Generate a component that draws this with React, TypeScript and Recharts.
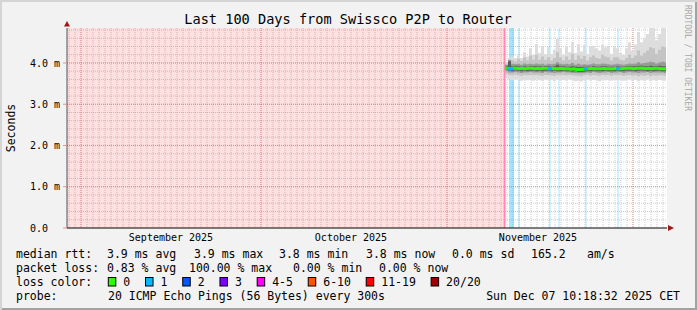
import React from 'react';
import {
  ComposedChart,
  Area,
  Line,
  Scatter,
  XAxis,
  YAxis,
  CartesianGrid,
  ReferenceArea,
  ReferenceLine,
} from 'recharts';

const MONO = '"DejaVu Sans Mono", monospace';

const TITLE = 'Last 100 Days from Swissco P2P to Router';
const Y_LABEL = 'Seconds';
const CREDIT = 'RRDTOOL / TOBI OETIKER';

// x axis is "days since start of the 100 day window"
const monthLabels = ['September 2025', 'October 2025', 'November 2025'];
const monthLabelDays = [17.33, 47.33, 78.5];
const monthStartDays = [2.33, 32.33, 63.33, 94.33];
const yTicks = [0, 1, 2, 3, 4];
const yTickLabels = ['0.0\u00a0\u00a0', '1.0 m', '2.0 m', '3.0 m', '4.0 m'];
const yMax = 4.848;

const unknownUntilDay = 72.75;
const firstSampleDay = 72.92;

const days = [
  73, 73.5, 74, 74.5, 75, 75.5, 76, 76.5, 77, 77.5,
  78, 78.5, 79, 79.5, 80, 80.5, 81, 81.5, 82, 82.5,
  83, 83.5, 84, 84.5, 85, 85.5, 86, 86.5, 87, 87.5,
  88, 88.5, 89, 89.5, 90, 90.5, 91, 91.5, 92, 92.5,
  93, 93.5, 94, 94.5, 95, 95.5, 96, 96.5, 97, 97.5,
  98, 98.5, 99, 99.5, 99.83,
];
const medianMs = [
  3.89, 3.87, 3.86, 3.88, 3.87, 3.86, 3.87, 3.86, 3.87, 3.87,
  3.86, 3.87, 3.86, 3.87, 3.87, 3.86, 3.87, 3.86, 3.86, 3.87,
  3.86, 3.86, 3.85, 3.86, 3.84, 3.84, 3.85, 3.86, 3.86, 3.87,
  3.86, 3.86, 3.86, 3.87, 3.86, 3.86, 3.86, 3.87, 3.86, 3.86,
  3.87, 3.87, 3.87, 3.86, 3.87, 3.88, 3.87, 3.86, 3.87, 3.86,
  3.87, 3.87, 3.86, 3.86, 3.86,
];
const smokeMax1 = [
  4.02, 4.12, 4.16, 4.12, 4.18, 4.12, 4.26, 4.16, 4.36, 4.2,
  4.46, 4.24, 4.4, 4.22, 4.38, 4.22, 4.32, 4.58, 4.36, 4.2,
  4.42, 4.26, 4.5, 4.24, 4.46, 4.28, 4.44, 4.22, 4.4, 4.42,
  4.36, 4.3, 4.44, 4.38, 4.4, 4.22, 4.38, 4.36, 4.24, 4.2,
  4.36, 4.5, 4.3, 4.45, 4.75, 4.5, 4.6, 4.7, 4.85, 4.85,
  4.55, 4.7, 4.85, 4.85, 4.8,
];
const smokeMin1 = [
  3.64, 3.6, 3.58, 3.6, 3.59, 3.57, 3.6, 3.58, 3.59, 3.57,
  3.6, 3.58, 3.57, 3.6, 3.58, 3.59, 3.56, 3.6, 3.58, 3.59,
  3.57, 3.6, 3.58, 3.56, 3.57, 3.55, 3.58, 3.6, 3.57, 3.59,
  3.58, 3.56, 3.6, 3.58, 3.59, 3.57, 3.6, 3.58, 3.59, 3.57,
  3.58, 3.6, 3.57, 3.59, 3.56, 3.58, 3.57, 3.6, 3.56, 3.58,
  3.57, 3.59, 3.58, 3.57, 3.58,
];
const smokeMax2 = [
  3.98, 4.05, 4.08, 4.04, 4.1, 4.05, 4.14, 4.06, 4.18, 4.08,
  4.2, 4.08, 4.16, 4.07, 4.14, 4.06, 4.12, 4.26, 4.14, 4.06,
  4.16, 4.08, 4.22, 4.07, 4.18, 4.1, 4.17, 4.06, 4.14, 4.18,
  4.12, 4.1, 4.2, 4.16, 4.14, 4.06, 4.14, 4.14, 4.08, 4.06,
  4.12, 4.2, 4.12, 4.18, 4.3, 4.18, 4.24, 4.3, 4.38, 4.36,
  4.22, 4.32, 4.4, 4.38, 4.32,
];
const smokeMin2 = [
  3.74, 3.71, 3.7, 3.72, 3.7, 3.69, 3.71, 3.7, 3.71, 3.7,
  3.71, 3.7, 3.69, 3.71, 3.7, 3.7, 3.69, 3.71, 3.7, 3.71,
  3.7, 3.71, 3.7, 3.69, 3.69, 3.68, 3.7, 3.71, 3.69, 3.71,
  3.7, 3.69, 3.71, 3.7, 3.71, 3.69, 3.71, 3.7, 3.71, 3.69,
  3.7, 3.71, 3.69, 3.7, 3.68, 3.7, 3.69, 3.71, 3.68, 3.7,
  3.69, 3.7, 3.7, 3.69, 3.7,
];
const smokeMax3 = [
  3.95, 4.08, 3.98, 3.97, 3.98, 3.96, 3.99, 3.97, 3.98, 3.97,
  3.99, 3.97, 3.98, 3.96, 3.98, 3.97, 3.98, 4.02, 3.98, 3.97,
  3.98, 3.97, 4.0, 3.96, 3.98, 3.96, 3.97, 3.96, 3.97, 3.99,
  3.97, 3.97, 3.99, 3.98, 3.97, 3.96, 3.97, 3.98, 3.97, 3.96,
  3.97, 3.99, 3.98, 3.99, 4.02, 3.99, 4.0, 4.01, 4.03, 4.02,
  3.99, 4.01, 4.03, 4.02, 4.0,
];
const smokeMin3 = [
  3.8, 3.77, 3.77, 3.78, 3.77, 3.76, 3.77, 3.77, 3.78, 3.77,
  3.77, 3.77, 3.76, 3.78, 3.77, 3.77, 3.76, 3.77, 3.77, 3.78,
  3.77, 3.77, 3.76, 3.76, 3.75, 3.75, 3.76, 3.77, 3.76, 3.78,
  3.77, 3.76, 3.77, 3.77, 3.78, 3.76, 3.77, 3.77, 3.78, 3.76,
  3.77, 3.78, 3.77, 3.77, 3.76, 3.77, 3.77, 3.78, 3.76, 3.77,
  3.77, 3.77, 3.77, 3.76, 3.77,
];
const smokeMax4 = [
  3.93, 4.04, 3.92, 3.93, 3.92, 3.91, 3.92, 3.91, 3.92, 3.92,
  3.92, 3.92, 3.91, 3.92, 3.92, 3.91, 3.92, 3.96, 3.92, 3.92,
  3.91, 3.91, 3.92, 3.91, 3.9, 3.9, 3.91, 3.91, 3.91, 3.92,
  3.91, 3.91, 3.92, 3.92, 3.91, 3.91, 3.91, 3.92, 3.91, 3.91,
  3.92, 3.92, 3.92, 3.92, 3.93, 3.93, 3.92, 3.92, 3.93, 3.92,
  3.92, 3.93, 3.92, 3.92, 3.92,
];
const smokeMin4 = [
  3.84, 3.81, 3.8, 3.82, 3.81, 3.8, 3.81, 3.8, 3.81, 3.81,
  3.8, 3.81, 3.8, 3.81, 3.81, 3.8, 3.81, 3.8, 3.8, 3.81,
  3.8, 3.8, 3.79, 3.8, 3.78, 3.78, 3.79, 3.8, 3.8, 3.81,
  3.8, 3.8, 3.8, 3.81, 3.8, 3.8, 3.8, 3.81, 3.8, 3.8,
  3.81, 3.81, 3.81, 3.8, 3.81, 3.82, 3.81, 3.8, 3.81, 3.8,
  3.81, 3.81, 3.8, 3.8, 3.8,
];

// loss events (1 of 20 lost) : start / end day
const lossStartDays = [73.67, 75.25, 80.42, 81.92, 86.42, 91.75];
const lossEndDays = [74.5, 75.42, 80.58, 82.08, 86.58, 91.92];
const lossMedianDays = [73.7, 74.1, 80.5, 86.5, 91.83];
const lossMedianMs = [3.86, 3.86, 3.86, 3.86, 3.87];

const lossColorLabels = ['0', '1', '2', '3', '4-5', '6-10', '11-19', '20/20'];
const lossColors = ['#26ff00', '#00b8ff', '#0059ff', '#7e00ff', '#ff00ff', '#ff5500', '#ff0000', '#a10000'];

const medianRttStats = ['3.9 ms avg', '3.9 ms max', '3.8 ms min', '3.8 ms now', '0.0 ms sd', '165.2', 'am/s'];
const packetLossStats = ['0.83 % avg', '100.00 % max', '0.00 % min', '0.00 % now'];
const probeText = '20 ICMP Echo Pings (56 Bytes) every 300s';
const dateText = 'Sun Dec 07 10:18:32 2025 CET';

const minorDays = Array.from({ length: 100 }, (_, i) => 0.33 + i);
const minorMs = Array.from({ length: 24 }, (_, i) => Math.round((0.2 * (i + 1)) * 100) / 100);

const data = days.map((d, i) => ({
  day: d,
  median: medianMs[i],
  band1: [smokeMin1[i], smokeMax1[i]],
  band2: [smokeMin2[i], smokeMax2[i]],
  band3: [smokeMin3[i], smokeMax3[i]],
  band4: [smokeMin4[i], smokeMax4[i]],
}));
const lossDots = lossMedianDays.map((d, i) => ({ day: d, median: lossMedianMs[i] }));

const W = 697;
const H = 310;
const PLOT = { left: 67, top: 28, width: 600, height: 200 };

const LossDot = (p: any) => (
  <rect x={p.cx - 2} y={p.cy - 1.5} width={4} height={3} fill="#00b8ff" />
);

const medianX = [107, 194, 279, 366, 452, 531, 587];
const lossX = [107, 189, 293, 379];
const CHAR_W = 6.92;

export default function App() {
  // legend boxes layout
  let bx = 108.3;
  const boxes = lossColorLabels.map((lab, i) => {
    const item = { x: bx, lab, color: lossColors[i] };
    bx = bx + 15 + lab.length * CHAR_W + 15.3;
    return item;
  });

  return (
    <div
      style={{
        position: 'absolute',
        left: 0,
        top: 0,
        width: W,
        height: H,
        background: '#f2f2f2',
        boxShadow: 'inset 2px 2px 0 #d4d4d4, inset -2px -2px 0 #a2a2a2',
        overflow: 'hidden',
      }}
    >
      <div
        style={{
          position: 'absolute',
          left: PLOT.left,
          top: PLOT.top,
          width: PLOT.width,
          height: PLOT.height,
          background: '#ffffff',
        }}
      />
      <div style={{ position: 'absolute', left: 0, top: 0 }}>
        <ComposedChart
          width={W}
          height={H}
          data={data}
          margin={{ top: 28, right: 30, bottom: 62, left: 0 }}
        >
          <XAxis
            dataKey="day"
            type="number"
            domain={[0, 100]}
            allowDataOverflow
            ticks={monthLabelDays}
            tickFormatter={(v: number) => monthLabels[monthLabelDays.indexOf(v)] ?? ''}
            tickLine={false}
            tickSize={6}
            tickMargin={0}
            height={20}
            axisLine={{ stroke: '#000', strokeWidth: 1 }}
            tick={{ fontFamily: MONO, fontSize: 10, fill: '#000' }}
            interval={0}
          />
          <YAxis
            type="number"
            domain={[0, yMax]}
            allowDataOverflow
            ticks={yTicks}
            tickFormatter={(v: number) => yTickLabels[yTicks.indexOf(v)] ?? ''}
            width={67}
            tickSize={4}
            tickMargin={3}
            tickLine={{ stroke: '#e89090' }}
            axisLine={{ stroke: '#555', strokeWidth: 1 }}
            tick={{ fontFamily: MONO, fontSize: 10, fill: '#000' }}
            interval={0}
          />
          <ReferenceArea
            x1={0}
            x2={unknownUntilDay}
            fill="#ff0000"
            fillOpacity={0.12}
            stroke="none"
            ifOverflow="hidden"
          />
          {lossStartDays.map((s, i) => (
            <ReferenceArea
              key={'loss' + i}
              x1={s}
              x2={lossEndDays[i]}
              fill="#00b8ff"
              fillOpacity={0.36}
              stroke="none"
            />
          ))}
          <Area type="stepAfter" dataKey="band1" stroke="none" fill="#dddddd" fillOpacity={1} isAnimationActive={false} dot={false} activeDot={false} />
          <Area type="stepAfter" dataKey="band2" stroke="none" fill="#c4c4c4" fillOpacity={1} isAnimationActive={false} dot={false} activeDot={false} />
          <Area type="stepAfter" dataKey="band3" stroke="none" fill="#999999" fillOpacity={1} isAnimationActive={false} dot={false} activeDot={false} />
          <Area type="stepAfter" dataKey="band4" stroke="none" fill="#5e5e5e" fillOpacity={1} isAnimationActive={false} dot={false} activeDot={false} />
          <ReferenceLine x={firstSampleDay} stroke="#ff88b4" strokeWidth={2} />
          <Line type="linear" dataKey="median" stroke="#26ff00" strokeWidth={3} dot={false} activeDot={false} isAnimationActive={false} />
          <Scatter data={lossDots} dataKey="median" shape={LossDot} isAnimationActive={false} />
          <CartesianGrid
            verticalValues={minorDays}
            horizontalValues={minorMs}
            stroke="#a8a8a8"
            strokeOpacity={0.55}
            strokeDasharray="1 1"
          />
          <CartesianGrid
            verticalValues={monthStartDays}
            horizontalValues={yTicks.slice(1)}
            stroke="#ff5050"
            strokeOpacity={0.5}
            strokeDasharray="1 1"
          />
        </ComposedChart>
      </div>
      <svg
        width={W}
        height={H}
        style={{ position: 'absolute', left: 0, top: 0, pointerEvents: 'none' }}
      >
        <text x={348} y={24} textAnchor="middle" fontFamily={MONO} fontSize={13.6} fill="#000">
          {TITLE}
        </text>
        <text
          transform="translate(14.5,128) rotate(-90)"
          textAnchor="middle"
          fontFamily={MONO}
          fontSize={11.5}
          fill="#000"
        >
          {Y_LABEL}
        </text>
        <text
          transform="translate(685,5) rotate(90)"
          textAnchor="start"
          fontFamily={MONO}
          fontSize={8}
          fill="#a8a8a8"
        >
          {CREDIT}
        </text>
        <polygon points="668,225 674,228 668,231" fill="#a01515" />
        <polygon points="64,26.5 67,21 70,26.5" fill="#a01515" />
        <g fontFamily={MONO} fontSize={11.5} fill="#000">
          <text x={16} y={257.5}>median rtt:</text>
          {medianRttStats.map((t, i) => (
            <text key={'m' + i} x={medianX[i]} y={257.5}>{t}</text>
          ))}
          <text x={16} y={271.5}>packet loss:</text>
          {packetLossStats.map((t, i) => (
            <text key={'p' + i} x={lossX[i]} y={271.5}>{t}</text>
          ))}
          <text x={16} y={285.5}>loss color:</text>
          {boxes.map((b, i) => (
            <g key={'b' + i}>
              <rect x={b.x} y={277.5} width={7.5} height={8.5} fill={b.color} stroke="#000" strokeWidth={1} />
              <text x={b.x + 15} y={285.5}>{b.lab}</text>
            </g>
          ))}
          <text x={16} y={299.5}>probe:</text>
          <text x={108} y={299.5}>{probeText}</text>
          <text x={680} y={299.5} textAnchor="end">{dateText}</text>
        </g>
      </svg>
    </div>
  );
}
